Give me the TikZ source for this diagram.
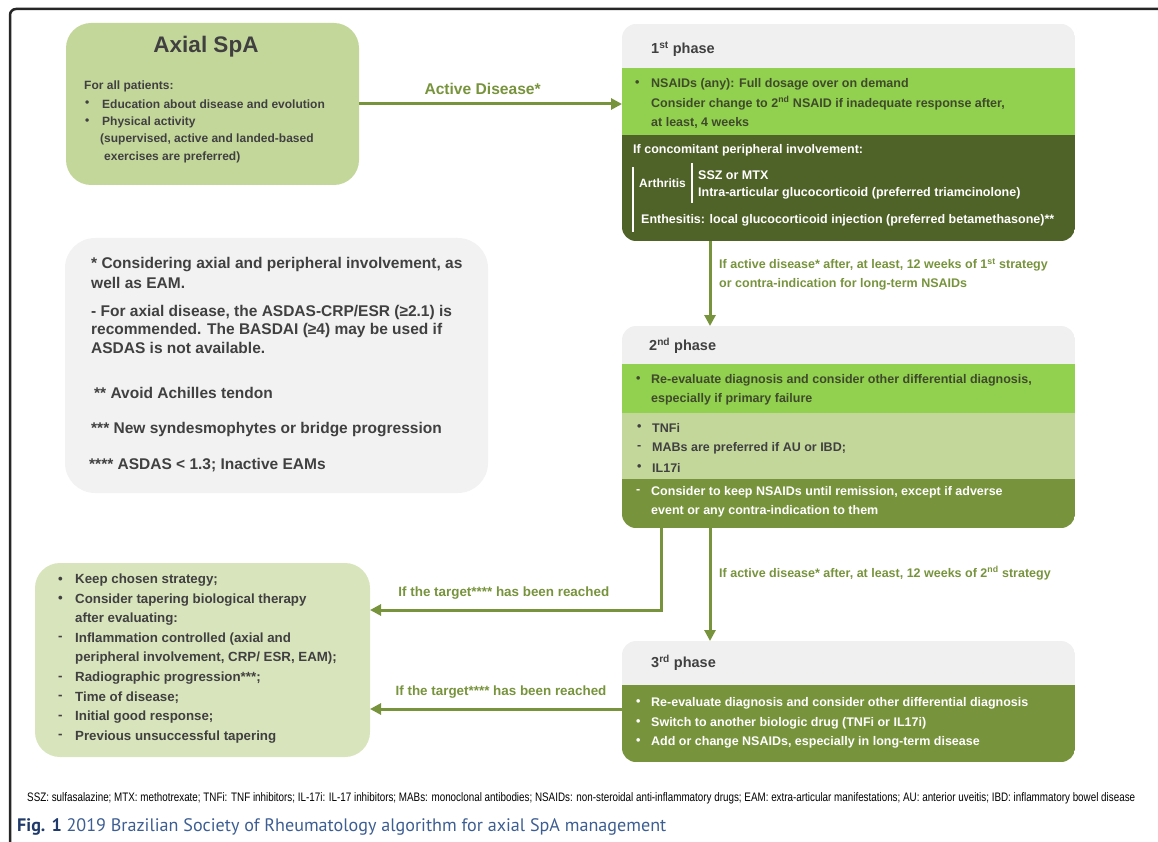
\documentclass[tikz,border=0pt]{standalone}
\usepackage{fontspec}
\usepackage{graphicx}
\setmainfont{Liberation Sans}
\newfontfamily\capfont{PT Sans}
\newfontfamily\narrowfont{Liberation Sans}[FakeStretch=0.8]
\usetikzlibrary{arrows.meta}
\definecolor{boxgreen}{HTML}{C4D79B}
\definecolor{palegreen}{HTML}{D8E4BC}
\definecolor{brightgreen}{HTML}{92D050}
\definecolor{olive}{HTML}{77933C}
\definecolor{darkolive}{HTML}{4F6228}
\definecolor{headgray}{HTML}{F0F0F0}
\definecolor{notegray}{HTML}{F2F2F2}
\definecolor{textgray}{HTML}{404040}
\definecolor{bandtext}{HTML}{3F4A2A}
\definecolor{capblue}{HTML}{1F3A6B}
\definecolor{caplight}{HTML}{3D5E92}
\newcommand{\sz}[1]{\fontsize{#1}{#1}\selectfont\bfseries}
\begin{document}
\begin{tikzpicture}[x=1pt,y=-1pt,
  txt/.style={anchor=west,inner sep=0pt,text=textgray,font=\sz{12}},
  ptxt/.style={txt,font=\sz{12.5}},
  wtxt/.style={ptxt,text=white},
  btxt/.style={ptxt,text=bandtext},
  gtxt/.style={txt,text=olive,font=\sz{12.5}},
  panel/.style={rectangle,inner sep=0pt,outer sep=0pt},
  arr/.style={olive,line width=3pt,-{Triangle[length=11pt,width=11pt]}}]
\useasboundingbox (0,0) rectangle (1158,842);
\draw[line width=2.5pt,black!85,rounded corners=6pt] (10,842) -- (10,9) -- (1158,9);
% boxes on the left
\node[panel,fill=boxgreen,rounded corners=25pt,minimum width=293pt,minimum height=162pt] (axial) at (212.5,104) {};
\node[panel,fill=notegray,rounded corners=30pt,minimum width=423pt,minimum height=255pt] (note) at (276.5,365.5) {};
\node[panel,fill=palegreen,rounded corners=25pt,minimum width=335pt,minimum height=194pt] (taper) at (202.5,660) {};
% phases
\node[panel,minimum width=453pt,minimum height=217pt] (p1) at (848.5,132.5) {};
\node[panel,minimum width=453pt,minimum height=202pt] (p2) at (848.5,427) {};
\node[panel,minimum width=453pt,minimum height=121pt] (p3) at (848.5,701.5) {};
\begin{scope}
  \clip[rounded corners=14pt] (p1.north west) rectangle (p1.south east);
  \fill[headgray] (p1.north west) rectangle (1075,68);
  \fill[brightgreen] (622,68) rectangle (1075,135);
  \fill[darkolive] (622,135) rectangle (p1.south east);
\end{scope}
\begin{scope}
  \clip[rounded corners=14pt] (p2.north west) rectangle (p2.south east);
  \fill[headgray] (p2.north west) rectangle (1075,364);
  \fill[brightgreen] (622,364) rectangle (1075,413);
  \fill[boxgreen] (622,413) rectangle (1075,479);
  \fill[olive] (622,479) rectangle (p2.south east);
\end{scope}
\begin{scope}
  \clip[rounded corners=14pt] (p3.north west) rectangle (p3.south east);
  \fill[headgray] (p3.north west) rectangle (1075,685);
  \fill[olive] (622,685) rectangle (p3.south east);
\end{scope}
% Axial SpA
\node[txt,font=\sz{22.5},anchor=center] (title) at (206,47) {Axial SpA};
\node[txt] (ax1) at (84,86) {For all patients:};
\node[txt] (ax2b) at (85,104) {\textbullet};
\node[txt] (ax2) at (102,104) {Education about disease and evolution};
\node[txt] (ax3b) at (85,122) {\textbullet};
\node[txt] (ax3) at (102,122) {Physical activity};
\node[txt] (ax4) at (100,139) {(supervised, active and landed-based};
\node[txt] (ax5) at (104,157) {exercises are preferred)};
% notes
\foreach \t/\x/\y [count=\i] in {{* Considering axial and peripheral involvement, as}/91/265,
 {well as EAM.}/91/283,
 {- For axial disease, the ASDAS-CRP/ESR (≥2.1) is}/91/312,
 {recommended. The BASDAI (≥4) may be used if}/91/330,
 {ASDAS is not available.}/91/348,
 {** Avoid Achilles tendon}/94/393,
 {*** New syndesmophytes or bridge progression}/91/430,
 {**** ASDAS < 1.3; Inactive EAMs}/89/465}
\node[txt,font=\sz{15.5}] (n\i) at (\x,\y) {\t};
% tapering
\foreach \b/\t [count=\i] in {\textbullet/{Keep chosen strategy;},
 \textbullet/{Consider tapering biological therapy},
 /{after evaluating:},
 -/{Inflammation controlled (axial and},
 /{peripheral involvement, CRP/ ESR, EAM);},
 -/{Radiographic progression***;},
 -/{Time of disease;},
 -/{Initial good response;},
 -/{Previous unsuccessful tapering}}
{\node[txt,font=\sz{13.3}] (tb\i) at (58,{560.4+19.6*\i}) {\b};
 \node[txt,font=\sz{13.3}] (tt\i) at (75,{560.4+19.6*\i}) {\t};}
% 1st phase
\node[txt,font=\sz{14.5}] (h1) at (651,49) {1\textsuperscript{st} phase};
\node[btxt] (a0) at (635,84) {\textbullet};
\node[btxt] (a1) at (651,84) {NSAIDs (any): Full dosage over on demand};
\node[btxt] (a2) at (651,103) {Consider change to 2\textsuperscript{nd} NSAID if inadequate response after,};
\node[btxt] (a3) at (651,123) {at least, 4 weeks};
\node[wtxt] (b1) at (633,150) {If concomitant peripheral involvement:};
\node[wtxt,font=\sz{12}] (b2) at (639,183) {Arthritis};
\node[wtxt] (b3) at (698,175) {SSZ or MTX};
\node[wtxt] (b4) at (698,193) {Intra-articular glucocorticoid (preferred triamcinolone)};
\node[wtxt] (b5) at (641,220) {Enthesitis: local glucocorticoid injection (preferred betamethasone)**};
\draw[white,line width=2pt] (633,167) -- (633,232) (692,163) -- (692,203);
% 2nd phase
\node[txt,font=\sz{14.5}] (h2) at (649,346) {2\textsuperscript{nd} phase};
\node[btxt] (c0) at (636,380) {\textbullet};
\node[btxt] (c1) at (651,380) {Re-evaluate diagnosis and consider other differential diagnosis,};
\node[btxt] (c2) at (651,399) {especially if primary failure};
\foreach \b/\t/\y [count=\i] in {\textbullet/TNFi/428,-/{MABs are preferred if AU or IBD;}/448,\textbullet/IL17i/468}
{\node[ptxt] (db\i) at (637,\y) {\b};
 \node[ptxt] (d\i) at (652,\y) {\t};}
\node[wtxt] (e0) at (636,492) {-};
\node[wtxt] (e1) at (651,492) {Consider to keep NSAIDs until remission, except if adverse};
\node[wtxt] (e2) at (651,511) {event or any contra-indication to them};
% 3rd phase
\node[txt,font=\sz{14.5}] (h3) at (651,663) {3\textsuperscript{rd} phase};
\foreach \t/\y [count=\i] in {{Re-evaluate diagnosis and consider other differential diagnosis}/703,
 {Switch to another biologic drug (TNFi or IL17i)}/723,
 {Add or change NSAIDs, especially in long-term disease}/742}
{\node[wtxt] (fb\i) at (636,\y) {\textbullet};
 \node[wtxt] (f\i) at (651,\y) {\t};}
% arrows
\draw[arr] (axial.east) -- node[gtxt,font=\sz{15.6},above,pos=0.47,yshift=8pt] (act) {Active Disease*} (axial.east -| p1.west);
\draw[arr] ([xshift=88pt]p1.south west) -- ([xshift=88pt]p2.north west);
\node[gtxt] (g1) at (719,265) {If active disease* after, at least, 12 weeks of 1\textsuperscript{st} strategy};
\node[gtxt] (g2) at (719,284) {or contra-indication for long-term NSAIDs};
\draw[arr] ([xshift=88pt]p2.south west) -- ([xshift=88pt]p3.north west);
\node[gtxt] (g3) at (719,573) {If active disease* after, at least, 12 weeks of 2\textsuperscript{nd} strategy};
\draw[arr] ([xshift=39pt]p2.south west) |- node[gtxt,font=\sz{13.4},above,pos=0.77,yshift=9pt] (tg1l) {If the target**** has been reached} ([yshift=50pt]taper.east);
\coordinate (tg2) at ([yshift=-49pt]taper.east);
\draw[arr] (tg2 -| p3.west) -- node[gtxt,font=\sz{13.4},above,pos=0.48,yshift=9pt] (tg2l) {If the target**** has been reached} (tg2);
% footer and caption
\node[anchor=west,inner sep=0pt] (foot) at (27,798) {\resizebox{1108pt}{!}{\narrowfont\fontsize{9}{9}\selectfont SSZ: sulfasalazine; MTX: methotrexate; TNFi: TNF inhibitors; IL-17i: IL-17 inhibitors; MABs: monoclonal antibodies; NSAIDs: non-steroidal anti-inflammatory drugs; EAM: extra-articular manifestations; AU: anterior uveitis; IBD: inflammatory bowel disease}};
\node[anchor=west,inner sep=0pt] (cap) at (17,827) {\capfont\fontsize{18.1}{18.1}\selectfont\textcolor{capblue}{\bfseries Fig. 1} \textcolor{caplight}{2019 Brazilian Society of Rheumatology algorithm for axial SpA management}};
\end{tikzpicture}
\end{document}
